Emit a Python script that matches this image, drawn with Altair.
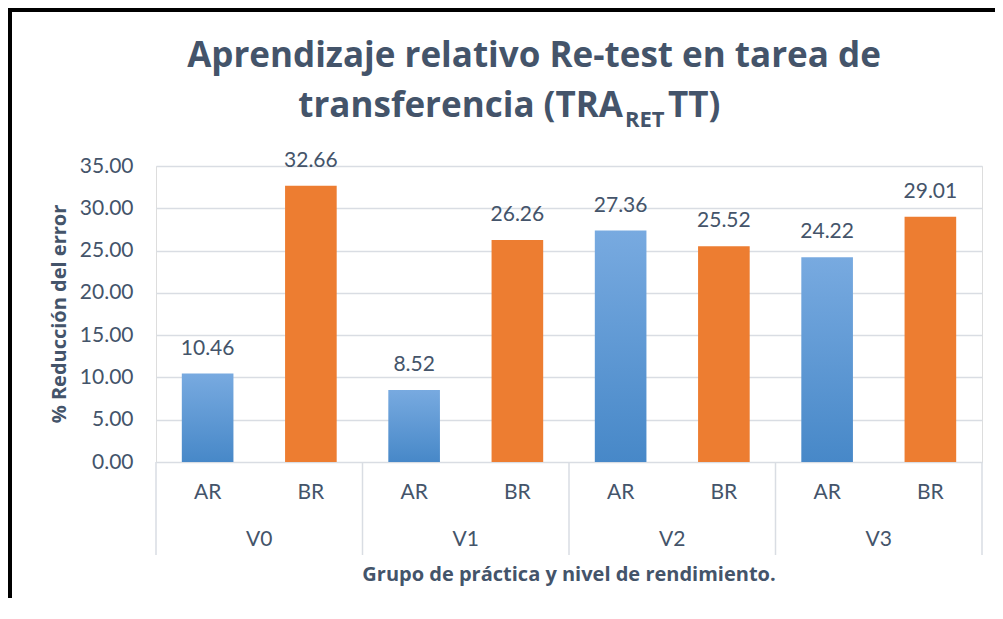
import altair as alt
import pandas as pd

# ---- data ----
groups = ["V0", "V0", "V1", "V1", "V2", "V2", "V3", "V3"]
levels = ["AR", "BR", "AR", "BR", "AR", "BR", "AR", "BR"]
values = [10.46, 32.66, 8.52, 26.26, 27.36, 25.52, 24.22, 29.01]
group_names = ["V0", "V1", "V2", "V3"]
y_ticks = [0, 5, 10, 15, 20, 25, 30, 35]

title_line1 = "Aprendizaje relativo Re-test en tarea de"
title_line2a = "transferencia (TRA"
title_line2sub = "RET"
title_line2b = "TT)"
y_title = "% Reducción del error"
x_title = "Grupo de práctica y nivel de rendimiento."

# ---- styles ----
TXT = "#44546A"
GRID = "#d9dde3"
ORANGE = "#ED7D31"
FONT = "Lato"
BFONT = "Open Sans"
W, H = 826, 296
PAD = {"left": 148, "top": 158, "right": 13, "bottom": 136}

df = pd.DataFrame({"group": groups, "level": levels, "value": values})
df["idx"] = range(len(df))
df["x0"] = df["idx"] + 0.25
df["x1"] = df["idx"] + 0.75
df["xc"] = df["idx"] + 0.5
df["label"] = df["value"].map(lambda v: f"{v:.2f}")

gdf = pd.DataFrame({"group": group_names, "xc": [2 * i + 1 for i in range(len(group_names))]})
sep = pd.DataFrame({"pos": [2 * i for i in range(len(group_names) + 1)]})

xscale = alt.Scale(domain=[0, 2 * len(group_names)], nice=False, zero=False)
yscale = alt.Scale(domain=[0, 35], nice=False)

blue_grad = alt.Gradient(
    gradient="linear",
    stops=[alt.GradientStop(color="#78aae0", offset=0),
           alt.GradientStop(color="#4788c8", offset=1)],
    x1=0, x2=0, y1=0, y2=1,
)

yaxis = alt.Axis(values=y_ticks, format=".2f", title=None, domain=False, ticks=False,
                 labelPadding=23, labelFont=FONT, labelFontSize=21, labelColor=TXT,
                 grid=True, gridColor=GRID, gridWidth=1.3)

base = alt.Chart(df)

bars_ar = base.transform_filter(alt.datum.level == "AR").mark_rect(color=blue_grad).encode(
    x=alt.X("x0:Q", scale=xscale, axis=None), x2="x1:Q",
    y=alt.Y("value:Q", scale=yscale, axis=yaxis), y2=alt.datum(0),
)
bars_br = base.transform_filter(alt.datum.level == "BR").mark_rect(color=ORANGE).encode(
    x=alt.X("x0:Q", scale=xscale, axis=None), x2="x1:Q",
    y=alt.Y("value:Q", scale=yscale, axis=yaxis), y2=alt.datum(0),
)
vlabels = base.mark_text(baseline="alphabetic", dy=-19, font=FONT, fontSize=21, color=TXT).encode(
    x=alt.X("xc:Q", scale=xscale, axis=None),
    y=alt.Y("value:Q", scale=yscale, axis=yaxis),
    text="label:N",
)
lvl = base.mark_text(baseline="middle", font=FONT, fontSize=21, color=TXT).encode(
    x=alt.X("xc:Q", scale=xscale, axis=None), y=alt.value(327), text="level:N",
)
glab = alt.Chart(gdf).mark_text(baseline="middle", font=FONT, fontSize=21, color=TXT).encode(
    x=alt.X("xc:Q", scale=xscale, axis=None), y=alt.value(374), text="group:N",
)
seps = alt.Chart(sep).mark_rule(color=GRID, strokeWidth=1.5).encode(
    x=alt.X("pos:Q", scale=xscale, axis=None), y=alt.value(H), y2=alt.value(389),
)

one = pd.DataFrame({"k": [0]})


def txt(text, x, y, size, align="center", baseline="alphabetic", angle=0, font=BFONT):
    return alt.Chart(one).mark_text(
        text=text, align=align, baseline=baseline, angle=angle, font=font,
        fontSize=size, fontWeight="bold", color=TXT,
    ).encode(x=alt.value(x), y=alt.value(y))


t1 = txt(title_line1, 378, -99, 35)
t2a = txt(title_line2a, 467, -49, 35, align="right")
t2s = txt(title_line2sub, 469, -39, 22, align="left")
t2b = txt(title_line2b, 512, -49, 35, align="left")
yt = txt(y_title, -96, H / 2, 20, baseline="middle", angle=270)
xt = txt(x_title, W / 2, 409, 20, baseline="middle")

# black frame (left and top edges; the others fall outside the page)
frame_left = alt.Chart(one).mark_rule(color="black", strokeWidth=5).encode(
    x=alt.value(-146.5), y=alt.value(-PAD["top"]), y2=alt.value(H + PAD["bottom"])
)
frame_top = alt.Chart(one).mark_rule(color="black", strokeWidth=5).encode(
    x=alt.value(-PAD["left"]), x2=alt.value(W + PAD["right"]), y=alt.value(-156.5)
)

chart = alt.layer(
    bars_ar, bars_br, vlabels, lvl, glab, seps, t1, t2a, t2s, t2b, yt, xt,
    frame_left, frame_top
).properties(
    width=W, height=H, autosize="none", padding=PAD,
).configure_view(strokeWidth=0).configure(background="white")

chart.save("out.html", embed_options={"renderer": "svg", "actions": False})
